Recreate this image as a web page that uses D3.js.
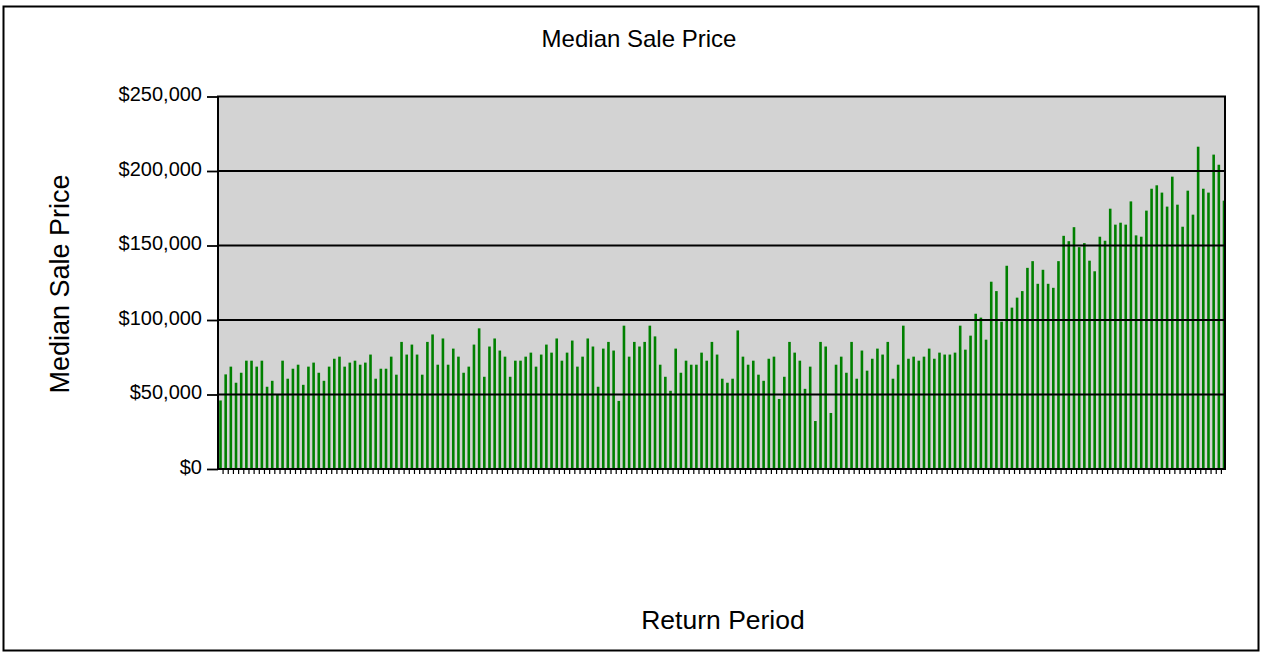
<!DOCTYPE html>
<html>
<head>
<meta charset="utf-8">
<script src="https://cdn.jsdelivr.net/npm/d3@7"></script>
<style>
  body { margin: 0; background: #fff; }
  text { font-family: Arial, "Liberation Sans", sans-serif; fill: #000; }
</style>
</head>
<body>
<div id="chart"></div>
<script>
// median sale price per return period, in dollars
const prices = [
	46000, 63500, 68700, 57900, 64600, 72700, 72700, 68700, 72700, 55200,
	59200, 49800, 72700, 60600, 67300, 70000, 56500, 68700, 71400, 64600,
	59200, 68700, 74000, 75400, 68700, 71400, 72700, 70000, 71400, 76800,
	60600, 67300, 67300, 75400, 63300, 85300, 76800, 83500, 76800, 63300,
	85300, 90300, 70000, 87600, 70000, 80800, 75400, 64600, 68700, 83500,
	94400, 61900, 82200, 87600, 79500, 75400, 61900, 72700, 72700, 75400,
	78100, 68700, 76800, 83500, 78100, 87600, 72700, 78100, 86200, 68700,
	75400, 87600, 82200, 55200, 80800, 85300, 79500, 45700, 96200, 75400,
	85300, 82200, 85300, 96200, 89000, 70000, 61900, 52500, 80800, 64600,
	72700, 70000, 70000, 78100, 72700, 85300, 76800, 60600, 57900, 60600,
	93000, 75400, 70000, 72700, 63300, 59200, 74000, 75400, 47000, 61900,
	85300, 78100, 72700, 53800, 68700, 32200, 85300, 82200, 37600, 70000,
	75400, 64600, 85300, 60600, 79500, 66000, 74000, 80800, 76800, 85300,
	60600, 70000, 96200, 74000, 75400, 72700, 75400, 80800, 74000, 78100,
	76800, 76800, 78100, 96200, 80100, 89500, 104200, 101600, 86800, 125700,
	119400, 98900, 136400, 108300, 115000, 119400, 135000, 139500, 124300, 133700,
	124300, 121600, 139500, 156500, 152900, 162300, 148900, 151600, 139800, 132700,
	155900, 153200, 174700, 164000, 165300, 164000, 179600, 156800, 155900, 173400,
	188100, 190400, 185500, 176100, 196200, 177400, 162600, 186800, 170700, 216300,
	188100, 185500, 211000, 204200, 180100
];
// return periods (no labels are printed on the axis)
const periods = prices.map((d, i) => i + 1);
const yTicks = [0, 50000, 100000, 150000, 200000, 250000];

const W = 1264, H = 657;
const plot = {left: 218, top: 96.5, right: 1225, bottom: 469};

const svg = d3.select("#chart").append("svg")
	.attr("width", W)
	.attr("height", H);

// outer chart border
svg.append("rect")
	.attr("x", 3.5).attr("y", 6.5)
	.attr("width", 1255).attr("height", 644)
	.attr("fill", "#fff")
	.attr("stroke", "#000")
	.attr("stroke-width", 2);

const y = d3.scaleLinear().domain([0, 250000]).range([plot.bottom, plot.top]);
// bars sit edge to edge, first one on the left axis, last one on the right border
const x = d3.scalePoint().domain(periods).range([220.5, 1224]).padding(0);
const step = x.step();
const barW = 2.6;

// plot background
svg.append("rect")
	.attr("x", plot.left).attr("y", plot.top)
	.attr("width", plot.right - plot.left)
	.attr("height", plot.bottom - plot.top)
	.attr("fill", "#d3d3d3");

svg.append("g")
	.selectAll("rect")
	.data(prices)
	.join("rect")
	.attr("x", (d, i) => x(periods[i]) - barW / 2)
	.attr("y", d => y(d))
	.attr("width", barW)
	.attr("height", d => y(0) - y(d))
	.attr("fill", "#008000");

// gridlines (drawn over the bars like in the original)
svg.append("g")
	.selectAll("line")
	.data(yTicks.slice(1, -1))
	.join("line")
	.attr("x1", plot.left).attr("x2", plot.right)
	.attr("y1", d => y(d)).attr("y2", d => y(d))
	.attr("stroke", "#000")
	.attr("stroke-width", 1.8);

// plot border
svg.append("rect")
	.attr("x", plot.left).attr("y", plot.top)
	.attr("width", plot.right - plot.left)
	.attr("height", plot.bottom - plot.top)
	.attr("fill", "none")
	.attr("stroke", "#000")
	.attr("stroke-width", 2);

// y axis
const yAxis = svg.append("g")
	.attr("transform", `translate(${plot.left},0)`)
	.call(d3.axisLeft(y)
		.tickValues(yTicks)
		.tickSize(11)
		.tickPadding(5)
		.tickFormat(d => "$" + d3.format(",")(d)));
yAxis.select(".domain").remove();
yAxis.selectAll(".tick line").attr("stroke", "#000").attr("stroke-width", 1.8);
yAxis.selectAll(".tick text")
	.attr("font-size", 20)
	.attr("dy", "0.2em")
	.style("font-family", "Arial, 'Liberation Sans', sans-serif");

// x axis ticks at category boundaries
svg.append("g")
	.selectAll("line")
	.data(periods.slice(0, -1))
	.join("line")
	.attr("x1", d => x(d) + step / 2).attr("x2", d => x(d) + step / 2)
	.attr("y1", plot.bottom).attr("y2", plot.bottom + 5)
	.attr("stroke", "#000")
	.attr("stroke-width", 1.2);

// titles
svg.append("text")
	.attr("x", 639).attr("y", 47)
	.attr("text-anchor", "middle")
	.attr("font-size", 24)
	.text("Median Sale Price");

svg.append("text")
	.attr("transform", "translate(69,284) rotate(-90)")
	.attr("text-anchor", "middle")
	.attr("font-size", 27)
	.text("Median Sale Price");

svg.append("text")
	.attr("x", 723).attr("y", 629)
	.attr("text-anchor", "middle")
	.attr("font-size", 26.5)
	.text("Return Period");
</script>
</body>
</html>
